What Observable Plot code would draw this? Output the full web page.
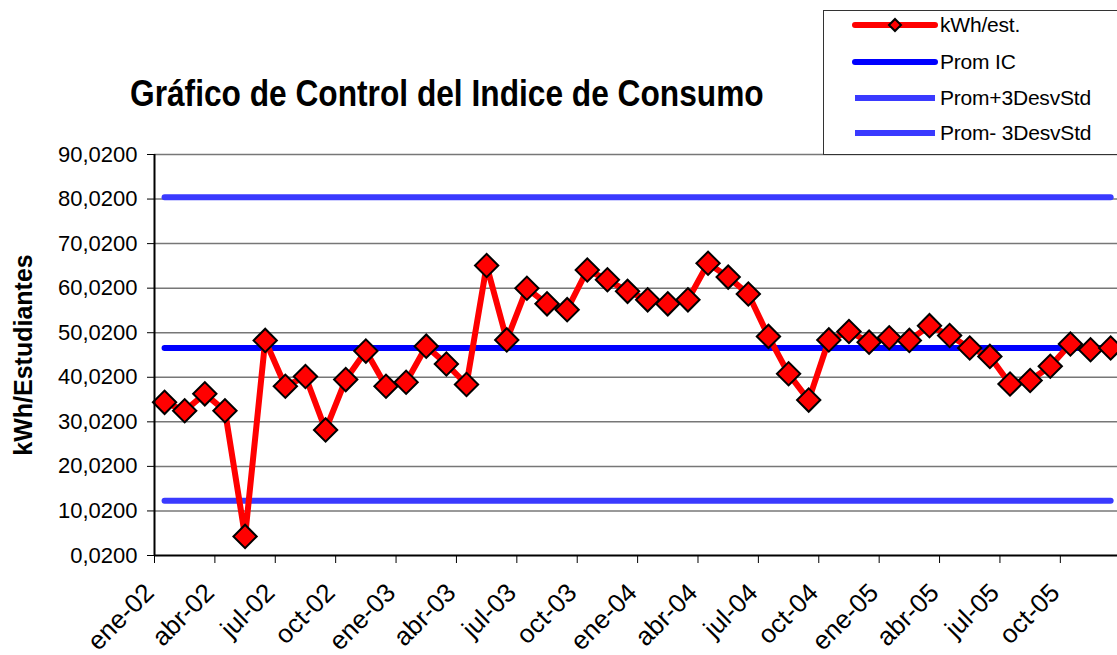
<!DOCTYPE html>
<html><head><meta charset="utf-8">
<script src="https://cdn.jsdelivr.net/npm/d3@7"></script>
<script src="https://cdn.jsdelivr.net/npm/@observablehq/plot@0.6"></script>
<style>
body{margin:0;background:#fff;overflow:hidden;font-family:"Liberation Sans",Arial,sans-serif;}
#wrap{position:relative;width:1117px;height:655px;}
#header{position:relative;height:140px;}
#title{position:absolute;left:130px;top:76px;font-size:36px;line-height:36px;font-weight:bold;white-space:nowrap;transform:scaleX(0.88);transform-origin:0 0;color:#000;}
#legend{position:absolute;left:823px;top:10px;width:310px;height:143px;border:1px solid #333;background:#fff;z-index:2;}
.row{position:absolute;left:0;height:24px;width:300px;}
.row svg{position:absolute;left:28px;top:0;}
.row span{position:absolute;left:116px;top:0;font-size:21px;line-height:24px;white-space:nowrap;color:#000;letter-spacing:-0.2px;}
#chart svg{display:block;}
</style></head>
<body>
<div id="wrap">
  <div id="header"><div id="title">Gráfico de Control del Indice de Consumo</div><div id="legend"></div></div>
  <div id="chart"></div>
</div>
<script>
const months = ["ene-02","feb-02","mar-02","abr-02","may-02","jun-02","jul-02","ago-02","sep-02","oct-02","nov-02","dic-02",
"ene-03","feb-03","mar-03","abr-03","may-03","jun-03","jul-03","ago-03","sep-03","oct-03","nov-03","dic-03",
"ene-04","feb-04","mar-04","abr-04","may-04","jun-04","jul-04","ago-04","sep-04","oct-04","nov-04","dic-04",
"ene-05","feb-05","mar-05","abr-05","may-05","jun-05","jul-05","ago-05","sep-05","oct-05","nov-05","dic-05"];
const kwhEst = [34.4,32.5,36.3,32.5,4.3,48.3,38.0,40.2,28.2,39.5,45.9,38.0,
38.9,47.0,43.0,38.4,65.1,48.4,60.0,56.5,55.2,64.1,61.9,59.3,
57.4,56.5,57.4,65.6,62.5,58.7,49.2,40.8,34.9,48.4,50.3,47.9,
48.9,48.3,51.6,49.4,46.6,44.7,38.5,39.3,42.5,47.5,46.2,46.6];
const promIC = 46.6;
const promMas3 = 80.4;
const promMenos3 = 12.3;
const yTicks = [0.02,10.02,20.02,30.02,40.02,50.02,60.02,70.02,80.02,90.02];
const tickMonths = ["ene-02","abr-02","jul-02","oct-02","ene-03","abr-03","jul-03","oct-03","ene-04","abr-04","jul-04","oct-04","ene-05","abr-05","jul-05","oct-05"];
const legendLabels = ["kWh/est.","Prom IC","Prom+3DesvStd","Prom- 3DesvStd"];
const legendColors = ["#ff0000","#0000ff","#3a3aff","#3a3aff"];

const rows = months.map((m, i) => ({i, m, v: kwhEst[i]}));
const tickPos = tickMonths.map(t => months.indexOf(t) - 0.5);
const fmt = d => d.toFixed(4).replace(".", ",");

const chart = Plot.plot({
  width: 1117, height: 515,
  marginLeft: 154, marginRight: 0, marginTop: 14, marginBottom: 100,
  style: {fontFamily: '"Liberation Sans", Arial, sans-serif', fontSize: "22px", color: "#000", background: "transparent"},
  x: {type: "linear", domain: [-0.5, 47.34], label: null},
  y: {domain: [0.02, 90.02], label: null},
  marks: [
    Plot.ruleY(yTicks.slice(1), {stroke: "#777", strokeWidth: 1.5}),
    Plot.lineY(rows, {x: "i", y: () => promMas3, stroke: legendColors[2], strokeWidth: 6}),
    Plot.lineY(rows, {x: "i", y: () => promMenos3, stroke: legendColors[3], strokeWidth: 6}),
    Plot.lineY(rows, {x: "i", y: () => promIC, stroke: legendColors[1], strokeWidth: 6, strokeLinecap: "round"}),
    Plot.lineY(rows, {x: "i", y: "v", stroke: legendColors[0], strokeWidth: 6, strokeLinejoin: "round", strokeLinecap: "round"}),
    Plot.dot(rows, {x: "i", y: "v", symbol: "square", r: 9.3, rotate: 45, fill: "#ff0000", stroke: "#000", strokeWidth: 2}),
    Plot.ruleX([-0.5], {stroke: "#000", strokeWidth: 2}),
    Plot.ruleY([yTicks[0]], {stroke: "#000", strokeWidth: 2}),
    Plot.axisY({ticks: yTicks, tickFormat: fmt, tickSize: 7, tickPadding: 10, fontSize: 22, label: null}),
    Plot.axisX({ticks: tickPos, tickSize: 8, tickFormat: () => "", label: null}),
    Plot.axisX({ticks: tickPos, tickSize: 0, tickPadding: 33, tickRotate: -45, dx: -5, fontSize: 26, tickFormat: p => months[Math.round(p + 0.5)], label: null}),
    Plot.text(["kWh/Estudiantes"], {text: d => d, frameAnchor: "left", dx: -131, rotate: -90, fontWeight: "bold", fontSize: 25, textAnchor: "middle", lineAnchor: "middle"})
  ]
});
document.getElementById("chart").appendChild(chart);

const legend = document.getElementById("legend");
const rowCenters = [14, 51, 87, 122];
legendLabels.forEach((lab, k) => {
  const row = document.createElement("div");
  row.className = "row";
  row.style.top = (rowCenters[k] - 12) + "px";
  let icon = `<svg width="86" height="24"><line x1="3" y1="12" x2="83" y2="12" stroke="${legendColors[k]}" stroke-width="6" stroke-linecap="${k < 2 ? "round" : "butt"}"/>`;
  if (k === 0) icon += `<path d="M43,6 L49,12 L43,18 L37,12 Z" fill="#ff0000" stroke="#000" stroke-width="2"/>`;
  icon += `</svg>`;
  row.innerHTML = icon + `<span>${lab}</span>`;
  legend.appendChild(row);
});
</script>
</body></html>
